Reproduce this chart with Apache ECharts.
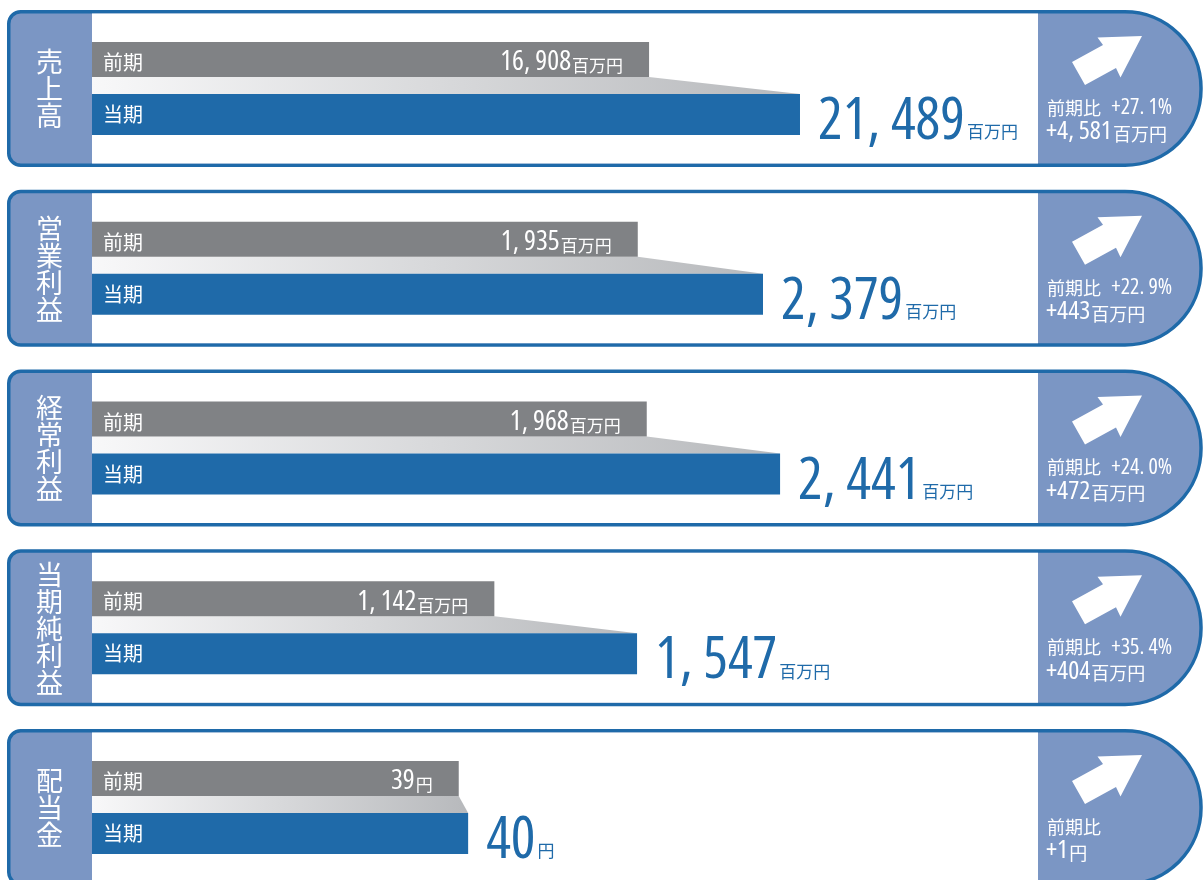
<!DOCTYPE html>
<html><head><meta charset="utf-8">
<script src="https://cdn.jsdelivr.net/npm/echarts@6/dist/echarts.min.js"></script>
<style>html,body{margin:0;padding:0;background:#fff}#c{width:1203px;height:880px}</style>
</head><body><div id="c"></div>
<script>
// ---- data ----
const metrics = ['売上高', '営業利益', '経常利益', '当期純利益', '配当金'];
const periods = ['前期', '当期'];
const prevValues = [16908, 1935, 1968, 1142, 39];
const currValues = [21489, 2379, 2441, 1547, 40];
const units = ['百万円', '百万円', '百万円', '百万円', '円'];
const changePct = [27.1, 22.9, 24.0, 35.4, null];
const changeAbs = [4581, 443, 472, 404, 1];
const ratioLabel = '前期比';
// per-panel axis maximum (each panel has its own scale)
const axisMax = [28713, 3354, 3356, 2685, 100.6];

// ---- style ----
const BLUE = '#1f6aa9', GREY = '#808285', LBLUE = '#7b96c4';
const JPF = "'Noto Sans CJK JP','Noto Sans',sans-serif";
const PANEL_STEP = 179.75, PANEL_TOP0 = 10;

const mctx = document.createElement('canvas').getContext('2d');
function measure(st, fam, txt) {
  mctx.font = (st ? st + ' ' : '') + '100px ' + fam;
  return mctx.measureText(txt).width;
}
// choose a narrow face for the numbers
function pickNarrow() {
  const cands = [
    { st: '', fam: "'Liberation Sans Narrow'" },
    { st: 'condensed', fam: "'Noto Sans'" },
    { st: 'condensed', fam: "'Open Sans'" },
    { st: 'condensed', fam: "Roboto" },
    { st: '', fam: "'DejaVu Sans Condensed'" },
    { st: '', fam: "'Liberation Sans'" }
  ];
  let best = cands[cands.length - 1], bw = Infinity;
  cands.forEach(cd => {
    const w = measure(cd.st, cd.fam + ', monospace', '21,489');
    if (w < bw - 0.5) { bw = w; best = cd; }
  });
  return best;
}
const NARROW = pickNarrow();
const NUMF = NARROW.fam + ",'Liberation Sans',sans-serif";
const NUMS = NARROW.st || 'normal';
function fitSize(txt, target, lo, hi) {
  const w = measure(NARROW.st, NUMF, txt);
  return Math.max(lo, Math.min(hi, Math.round(100 * target / w)));
}

function fmt(v) {
  return String(v).replace(/\B(?=(\d{3})+(?!\d))/g, ', ');
}
const SZ_BIG = fitSize('21, 489', 159, 50, 58);
const SZ_PREV = fitSize('16, 908', 82, 25, 28);
const SZ_ABS = fitSize('+4, 581', 75, 22, 26);
const SZ_PCT = fitSize('+27. 1%', 67, 18, 22);

const grids = [], xAxes = [], yAxes = [], series = [], graphics = [];

metrics.forEach((m, i) => {
  const top = PANEL_TOP0 + i * PANEL_STEP;
  graphics.push({
    type: 'rect', z: 0,
    shape: { x: 8.75, y: top + 1.75, width: 1192.25, height: 153.5, r: [12, 76, 76, 12] },
    style: { fill: LBLUE, stroke: BLUE, lineWidth: 3.5 }
  });
  graphics.push({
    type: 'rect', z: 1,
    shape: { x: 92, y: top + 3.5, width: 946, height: 150 },
    style: { fill: '#ffffff' }
  });
  graphics.push({
    type: 'text', z: 2,
    style: {
      x: 49.5, y: top + 79, text: m.split('').join('\n'),
      fill: '#ffffff', font: '27px ' + JPF, lineHeight: 27,
      align: 'center', verticalAlign: 'middle'
    }
  });
  const pts = [[1072, 52], [1085, 75], [1116, 58], [1120.5, 67.5], [1142, 26], [1097.5, 27.5], [1103, 35]];
  graphics.push({
    type: 'polygon', z: 2,
    shape: { points: pts.map(p => [p[0], p[1] + top]) },
    style: { fill: '#ffffff' }
  });
  const line1 = changePct[i] == null ? '{a|' + ratioLabel + '}'
    : '{a|' + ratioLabel + '} {b|+' + changePct[i].toFixed(1).replace('.', '. ') + '%}';
  graphics.push({
    type: 'text', z: 2,
    style: {
      x: 1047, y: top + 98, text: line1, verticalAlign: 'middle', align: 'left',
      rich: {
        a: { fontSize: 18, fontFamily: JPF, fill: '#fff' },
        b: { fontSize: SZ_PCT, fontFamily: NUMF, fontStyle: NUMS, fill: '#fff', padding: [0, 0, 0, 7] }
      }
    }
  });
  graphics.push({
    type: 'text', z: 2,
    style: {
      x: 1046, y: top + 122, text: '{c|+' + fmt(changeAbs[i]) + '}{d|' + units[i] + '}',
      verticalAlign: 'middle', align: 'left',
      rich: {
        c: { fontSize: SZ_ABS, fontFamily: NUMF, fontStyle: NUMS, fill: '#fff', verticalAlign: 'bottom' },
        d: { fontSize: 18, fontFamily: JPF, fill: '#fff', verticalAlign: 'bottom', padding: [0, 0, 2, 1] }
      }
    }
  });

  grids.push({ left: 92, width: 946, top: top + 26.5, height: 104 });
  xAxes.push({ gridIndex: i, type: 'value', min: 0, max: axisMax[i], show: false });
  yAxes.push({
    gridIndex: i, type: 'category', data: periods, inverse: true, z: 10,
    axisLine: { show: false }, axisTick: { show: false }, splitLine: { show: false },
    axisLabel: { inside: true, margin: 11, color: '#ffffff', fontSize: 20, fontFamily: JPF }
  });
  // gradient band linking previous and current bars
  series.push({
    type: 'custom', xAxisIndex: i, yAxisIndex: i, silent: true, z: 1,
    data: [[prevValues[i], currValues[i]]],
    encode: { x: [0, 1] },
    renderItem: function (params, api) {
      const p0 = api.coord([api.value(0), 0]);
      const p1 = api.coord([api.value(1), 1]);
      const x0 = api.coord([0, 0])[0];
      const yT = p0[1] + 14.5, yB = p1[1] - 20.5;
      return {
        type: 'polygon',
        shape: { points: [[x0, yT], [p0[0], yT], [p1[0], yB], [x0, yB]] },
        style: {
          fill: new echarts.graphic.LinearGradient(0, 0, 1, 0, [
            { offset: 0, color: '#f8f8f9' }, { offset: 1, color: '#b7b9bc' }
          ])
        }
      };
    }
  });
  series.push({
    type: 'bar', xAxisIndex: i, yAxisIndex: i, silent: true, z: 2,
    barWidth: 35, barGap: '-100%',
    itemStyle: { color: GREY },
    data: [prevValues[i], '-'],
    label: {
      show: true, position: 'insideRight', distance: 26, offset: [0, 3],
      formatter: p => '{n|' + fmt(p.value) + '}{u|' + units[i] + '}',
      rich: {
        n: { fontSize: SZ_PREV, fontFamily: NUMF, fontStyle: NUMS, color: '#ffffff', verticalAlign: 'bottom' },
        u: { fontSize: 17, fontFamily: JPF, color: '#ffffff', verticalAlign: 'bottom', padding: [0, 0, 2, 1] }
      }
    }
  });
  series.push({
    type: 'bar', xAxisIndex: i, yAxisIndex: i, silent: true, z: 2,
    barWidth: 41, barGap: '-100%',
    itemStyle: { color: BLUE },
    data: ['-', currValues[i]],
    label: {
      show: true, position: 'right', distance: 18, offset: [0, 8],
      formatter: p => '{n|' + fmt(p.value) + '}{u|' + units[i] + '}',
      rich: {
        n: { fontSize: SZ_BIG, fontFamily: NUMF, fontStyle: NUMS, color: BLUE, verticalAlign: 'bottom' },
        u: { fontSize: 17, fontFamily: JPF, color: BLUE, verticalAlign: 'bottom', padding: [0, 0, 11, 2] }
      }
    }
  });
});

const chart = echarts.init(document.getElementById('c'), null, { renderer: 'canvas' });
chart.setOption({
  animation: false,
  grid: grids, xAxis: xAxes, yAxis: yAxes, series: series,
  graphic: { elements: graphics }
});
</script>
</body></html>
